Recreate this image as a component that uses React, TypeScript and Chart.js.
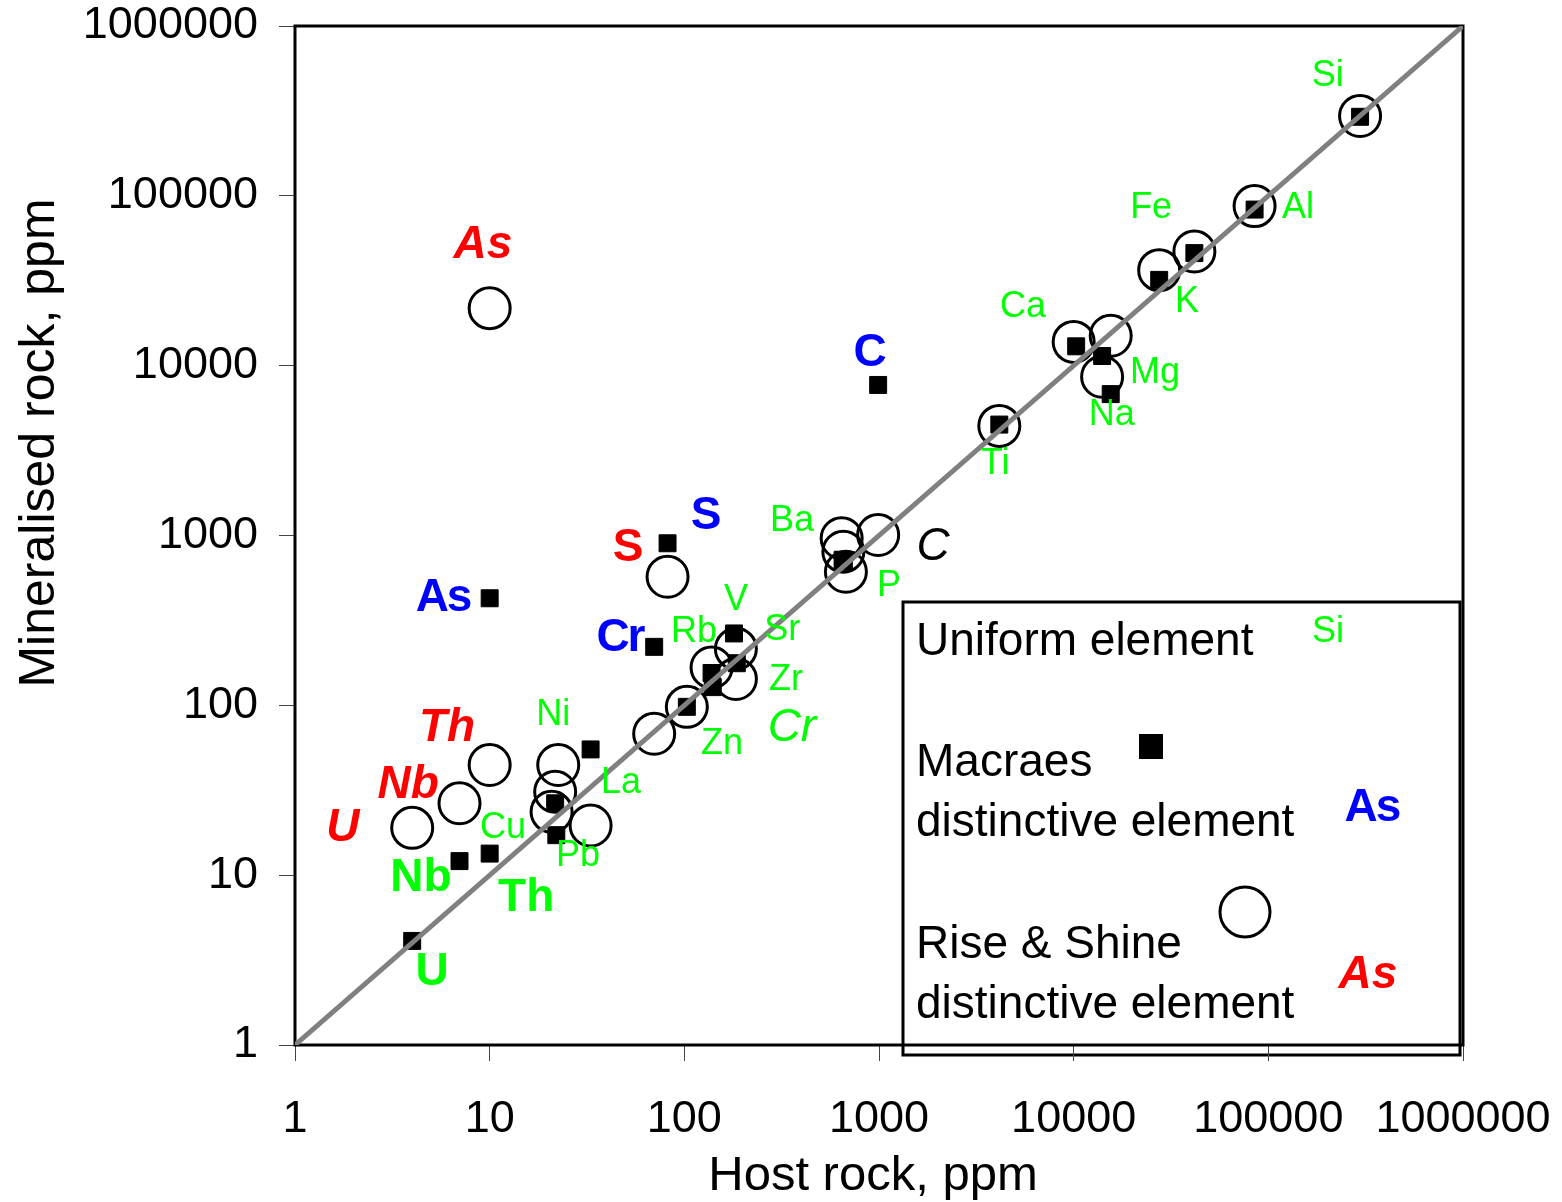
import React, { useEffect, useRef } from "react";
import { Chart, registerables } from "chart.js";

Chart.register(...registerables);

const FONT = "'Liberation Sans', Arial, Helvetica, sans-serif";

// Axis range and tick labels
const axisMin = 1;
const axisMax = 1000000;
const tickValues = [1, 10, 100, 1000, 10000, 100000, 1000000];
const xTitle = "Host rock, ppm";
const yTitle = "Mineralised rock, ppm";

// Macraes samples (filled squares)
const macraesElements = ["Si", "Al", "Fe", "K", "Ca", "Mg", "Na", "Ti", "C", "Ba", "P", "V", "Sr", "Rb", "Zr", "Zn", "La", "Cu", "Pb", "Cr", "S", "As", "Nb", "Th", "U"];
const macraesHost = [296000, 85000, 41700, 27500, 10300, 14000, 15500, 4150, 990, 650, 660, 180, 186, 138, 140, 103, 33, 21.7, 22, 70, 82, 10, 7, 10, 4];
const macraesMineral = [292000, 83000, 46000, 32000, 13000, 11400, 6800, 4500, 7700, 720, 700, 265, 177, 155, 128, 98, 55, 26.5, 17.2, 221, 900, 427, 12.1, 13.4, 4.1];

// Rise & Shine samples (open circles)
const riseElements = ["Si", "Al", "Fe", "K", "Ca", "Mg", "Na", "Ti", "C", "Ba", "Ba2", "P", "Sr", "Zr", "Rb", "Zn", "Cr", "Pb", "La", "Cu", "Ni", "Th", "Nb", "U", "S", "As"];
const riseHost = [296000, 85000, 41700, 27500, 10000, 15500, 14000, 4150, 990, 643, 656, 676, 184, 184, 138, 103, 70, 33, 20.8, 21.7, 22.5, 10, 7, 4, 82, 10];
const riseMineral = [295000, 87000, 47000, 36500, 13800, 15000, 8600, 4420, 1007, 963, 803, 612, 215, 143, 167, 98, 68, 19.6, 23.6, 31, 44.5, 44.5, 26.5, 19, 572, 21800];

// Element labels (anchor positions in data units)
const uniformText = ["Si", "Fe", "Al", "K", "Ca", "Mg", "Na", "Ti", "Ba", "P", "V", "Rb", "Sr", "Zr", "Zn", "Ni", "La", "Cu", "Pb"];
const uniformX = [202000, 25000, 142000, 38200, 5500, 26200, 15700, 3950, 357, 1125, 184, 112, 318, 333, 156, 21.2, 47.3, 11.7, 28.4];
const uniformY = [508000, 85000, 85000, 23700, 22200, 9050, 5120, 2640, 1220, 504, 417, 270, 278, 141, 59, 87.7, 34.9, 19, 13];

const greenBoldText = ["Nb", "Th", "U"];
const greenBoldX = [4.44, 15.4, 5.06];
const greenBoldY = [9.62, 7.34, 2.69];

const redItalicText = ["As", "Th", "Nb", "U"];
const redItalicX = [9.24, 6.04, 3.81, 1.76];
const redItalicY = [51300, 73.5, 34, 19];

const redBoldText = ["S"];
const redBoldX = [51.4];
const redBoldY = [844];

const blueBoldText = ["As", "S", "Cr", "C"];
const blueBoldX = [5.76, 128, 46.7, 889];
const blueBoldY = [429, 1300, 249, 11900];

const greenItalicText = ["Cr"];
const greenItalicX = [357];
const greenItalicY = [73.5];

const blackItalicText = ["C"];
const blackItalicX = [1894];
const blackItalicY = [856];

const GREEN = "#00ff00";
const RED = "#ff0000";
const BLUE = "#0000ff";

const labelGroups = [
  { text: uniformText, xs: uniformX, ys: uniformY, color: GREEN, font: `36px ${FONT}`, spacing: "0px" },
  { text: greenBoldText, xs: greenBoldX, ys: greenBoldY, color: GREEN, font: `bold 46px ${FONT}`, spacing: "0px" },
  { text: redItalicText, xs: redItalicX, ys: redItalicY, color: RED, font: `italic bold 46px ${FONT}`, spacing: "0px" },
  { text: redBoldText, xs: redBoldX, ys: redBoldY, color: RED, font: `bold 46px ${FONT}`, spacing: "0px" },
  { text: blueBoldText, xs: blueBoldX, ys: blueBoldY, color: BLUE, font: `bold 46px ${FONT}`, spacing: "-2px" },
  { text: greenItalicText, xs: greenItalicX, ys: greenItalicY, color: GREEN, font: `italic 46px ${FONT}`, spacing: "0px" },
  { text: blackItalicText, xs: blackItalicX, ys: blackItalicY, color: "#000000", font: `italic 46px ${FONT}`, spacing: "0px" },
];

const toPoints = (xs: number[], ys: number[]) => xs.map((x, i) => ({ x, y: ys[i] }));

const framePlugin = {
  id: "frame",
  beforeDatasetsDraw(chart: any) {
    const { ctx, chartArea } = chart;
    ctx.save();
    ctx.strokeStyle = "#000";
    ctx.lineWidth = 3;
    ctx.strokeRect(chartArea.left, chartArea.top, chartArea.right - chartArea.left, chartArea.bottom - chartArea.top);
    ctx.restore();
  },
};

const titlesPlugin = {
  id: "axisTitles",
  afterDraw(chart: any) {
    const { ctx } = chart;
    ctx.save();
    ctx.fillStyle = "#000";
    ctx.font = `49px ${FONT}`;
    ctx.textAlign = "center";
    ctx.textBaseline = "alphabetic";
    ctx.fillText(xTitle, 873, 1190);
    ctx.translate(54, 443);
    ctx.rotate(-Math.PI / 2);
    ctx.font = `50px ${FONT}`;
    ctx.fillText(yTitle, 0, 0);
    ctx.restore();
  },
};

const labelsPlugin = {
  id: "elementLabels",
  afterDatasetsDraw(chart: any) {
    const { ctx, scales } = chart;
    ctx.save();
    ctx.textAlign = "center";
    ctx.textBaseline = "middle";
    labelGroups.forEach((g) => {
      ctx.font = g.font;
      ctx.fillStyle = g.color;
      (ctx as any).letterSpacing = g.spacing;
      g.text.forEach((t, i) => {
        ctx.fillText(t, scales.x.getPixelForValue(g.xs[i]), scales.y.getPixelForValue(g.ys[i]));
      });
    });
    (ctx as any).letterSpacing = "0px";
    ctx.restore();
  },
};

const legendPlugin = {
  id: "keyBox",
  beforeDraw(chart: any) {
    const { ctx } = chart;
    ctx.save();
    const bx = 903, by = 602, bw = 557, bh = 453;
    ctx.fillStyle = "#fff";
    ctx.fillRect(bx, by, bw, bh);
    ctx.strokeStyle = "#000";
    ctx.lineWidth = 3;
    ctx.strokeRect(bx, by, bw, bh);

    ctx.fillStyle = "#000";
    ctx.font = `46px ${FONT}`;
    ctx.textAlign = "left";
    ctx.textBaseline = "alphabetic";
    ctx.fillText("Uniform element", 916, 655);
    ctx.fillText("Macraes", 916, 776);
    ctx.fillText("distinctive element", 916, 836);
    ctx.fillText("Rise & Shine", 916, 958);
    ctx.fillText("distinctive element", 916, 1018);

    ctx.textAlign = "center";
    ctx.textBaseline = "middle";
    ctx.fillStyle = GREEN;
    ctx.font = `36px ${FONT}`;
    ctx.fillText("Si", 1328, 632);
    ctx.fillStyle = BLUE;
    ctx.font = `bold 46px ${FONT}`;
    (ctx as any).letterSpacing = "-2px";
    ctx.fillText("As", 1372, 808);
    (ctx as any).letterSpacing = "0px";
    ctx.fillStyle = RED;
    ctx.font = `italic bold 46px ${FONT}`;
    ctx.fillText("As", 1368, 975);

    ctx.fillStyle = "#000";
    ctx.fillRect(1139, 734, 24, 25);
    ctx.beginPath();
    ctx.arc(1245, 912, 25, 0, Math.PI * 2);
    ctx.lineWidth = 3;
    ctx.stroke();
    ctx.restore();
  },
};

export default function App() {
  const canvasRef = useRef<HTMLCanvasElement | null>(null);

  useEffect(() => {
    if (!canvasRef.current) return;
    const axisCommon = (pad: number, size: { w?: number; h?: number }) => ({
      type: "logarithmic" as const,
      min: axisMin,
      max: axisMax,
      afterBuildTicks: (scale: any) => {
        scale.ticks = tickValues.map((v) => ({ value: v }));
      },
      ticks: {
        callback: (v: any) => String(v),
        font: { family: FONT, size: 45 },
        color: "#000",
        autoSkip: false,
        maxRotation: 0,
        minRotation: 0,
        padding: pad,
      },
      grid: {
        drawOnChartArea: false,
        drawTicks: true,
        tickLength: 16,
        color: "#444",
        lineWidth: 1,
      },
      border: { display: false },
      title: { display: false },
      afterFit: (s: any) => {
        if (size.w !== undefined) s.width = size.w;
        if (size.h !== undefined) s.height = size.h;
        s.paddingTop = 0;
        s.paddingBottom = 0;
        s.paddingLeft = 0;
        s.paddingRight = 0;
      },
    });

    const chart = new Chart(canvasRef.current, {
      type: "scatter",
      data: {
        datasets: [
          {
            type: "line",
            label: "1:1",
            data: [
              { x: axisMin, y: axisMin },
              { x: axisMax, y: axisMax },
            ],
            borderColor: "#808080",
            borderWidth: 5,
            pointRadius: 0,
            showLine: true,
            order: 0,
          } as any,
          {
            label: "Macraes",
            data: toPoints(macraesHost, macraesMineral),
            pointStyle: "rect",
            pointRadius: 12,
            backgroundColor: "#000",
            borderColor: "#000",
            borderWidth: 1,
            order: 1,
          },
          {
            label: "Rise & Shine",
            data: toPoints(riseHost, riseMineral),
            pointStyle: "circle",
            pointRadius: 20.5,
            backgroundColor: "rgba(0,0,0,0)",
            borderColor: "#000",
            borderWidth: 3,
            order: 2,
          },
        ],
      },
      options: {
        responsive: false,
        animation: false,
        events: [],
        layout: { padding: { top: 26, right: 99, left: 0, bottom: 0 } },
        plugins: {
          legend: { display: false },
          tooltip: { enabled: false },
        },
        scales: {
          x: { ...axisCommon(32, { h: 157 }), position: "bottom" },
          y: { ...axisCommon(21, { w: 295 }), position: "left" },
        } as any,
      },
      plugins: [legendPlugin, framePlugin, labelsPlugin, titlesPlugin],
    });
    return () => chart.destroy();
  }, []);

  return (
    <div style={{ position: "absolute", left: 0, top: 0, width: 1562, height: 1202, background: "#fff" }}>
      <canvas ref={canvasRef} width={1562} height={1202} style={{ width: 1562, height: 1202, display: "block" }} />
    </div>
  );
}
